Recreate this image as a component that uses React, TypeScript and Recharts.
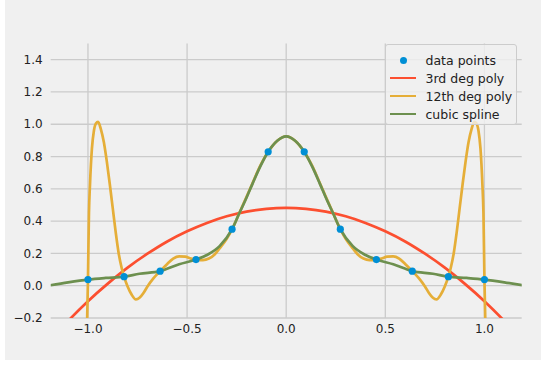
import React from 'react';
import { LineChart, Line, XAxis, YAxis, CartesianGrid, Legend } from 'recharts';

// sample points (blue dots)
const dataX = [-1, -0.818, -0.636, -0.455, -0.273, -0.091, 0.091, 0.273, 0.455, 0.636, 0.818, 1];
const dataY = [0.038, 0.056, 0.09, 0.162, 0.35, 0.829, 0.829, 0.35, 0.162, 0.09, 0.056, 0.038];

// 3rd degree fit
const poly3X = [-1.2, -1.1, -1.0, -0.9, -0.8, -0.7, -0.6, -0.5, -0.4, -0.3, -0.2, -0.1, 0, 0.1, 0.2, 0.3, 0.4, 0.5, 0.6, 0.7, 0.8, 0.9, 1.0, 1.1, 1.2];
const poly3Y = [-0.352, -0.218, -0.096, 0.013, 0.112, 0.198, 0.274, 0.337, 0.389, 0.43, 0.459, 0.476, 0.482, 0.476, 0.459, 0.43, 0.389, 0.337, 0.274, 0.198, 0.112, 0.013, -0.096, -0.218, -0.352];

// 12th degree fit (yellow), [x, y]
const poly12Pts: [number, number][] = [
  [-1.02, -1.4], [-1.01, -0.55], [-1.0, 0.038], [-0.995, 0.45], [-0.99, 0.62], [-0.98, 0.85],
  [-0.97, 0.96], [-0.96, 1.005], [-0.949, 1.015], [-0.935, 0.97], [-0.92, 0.89], [-0.905, 0.77],
  [-0.89, 0.63], [-0.875, 0.48], [-0.86, 0.33], [-0.845, 0.2], [-0.83, 0.11], [-0.818, 0.056],
  [-0.8, -0.005], [-0.78, -0.055], [-0.758, -0.085], [-0.74, -0.075], [-0.72, -0.045], [-0.7, -0.005],
  [-0.67, 0.045], [-0.636, 0.09], [-0.6, 0.135], [-0.57, 0.168], [-0.54, 0.182], [-0.51, 0.18],
  [-0.48, 0.168], [-0.455, 0.162], [-0.42, 0.158], [-0.39, 0.168], [-0.36, 0.195], [-0.336, 0.231],
  [-0.3, 0.29], [-0.273, 0.35], [-0.24, 0.44], [-0.2, 0.55], [-0.17, 0.635], [-0.13, 0.745],
  [-0.091, 0.829], [-0.045, 0.898], [0, 0.925],
  [0.045, 0.898], [0.091, 0.829], [0.13, 0.745], [0.17, 0.635], [0.2, 0.55], [0.24, 0.44],
  [0.273, 0.35], [0.3, 0.29], [0.336, 0.231], [0.36, 0.195], [0.39, 0.168], [0.42, 0.158],
  [0.455, 0.162], [0.48, 0.168], [0.51, 0.18], [0.54, 0.182], [0.57, 0.168], [0.6, 0.135],
  [0.636, 0.09], [0.67, 0.045], [0.7, -0.005], [0.72, -0.045], [0.74, -0.075], [0.758, -0.085],
  [0.78, -0.055], [0.8, -0.005], [0.818, 0.056], [0.83, 0.11], [0.845, 0.2], [0.86, 0.33],
  [0.875, 0.48], [0.89, 0.63], [0.905, 0.77], [0.92, 0.89], [0.935, 0.97], [0.949, 1.015],
  [0.96, 1.005], [0.97, 0.96], [0.98, 0.85], [0.99, 0.62], [0.995, 0.45], [1.0, 0.038],
  [1.01, -0.55], [1.02, -1.4],
];

// cubic spline (green), [x, y]
const splinePts: [number, number][] = [
  [-1.19, 0.003], [-1.1, 0.021], [-1.0, 0.038], [-0.91, 0.048], [-0.818, 0.056], [-0.74, 0.074],
  [-0.636, 0.09], [-0.54, 0.133], [-0.455, 0.162], [-0.4, 0.19], [-0.336, 0.245], [-0.273, 0.35],
  [-0.236, 0.45], [-0.202, 0.54], [-0.169, 0.634], [-0.13, 0.74], [-0.091, 0.829], [-0.045, 0.898],
  [0, 0.925],
  [0.045, 0.898], [0.091, 0.829], [0.13, 0.74], [0.169, 0.634], [0.202, 0.54], [0.236, 0.45],
  [0.273, 0.35], [0.336, 0.245], [0.4, 0.19], [0.455, 0.162], [0.54, 0.133], [0.636, 0.09],
  [0.74, 0.074], [0.818, 0.056], [0.91, 0.048], [1.0, 0.038], [1.1, 0.021], [1.19, 0.003],
];

const xTicks = [-1, -0.5, 0, 0.5, 1];
const yTicks = [-0.2, 0, 0.2, 0.4, 0.6, 0.8, 1.0, 1.2, 1.4];

const legendItems = [
  { name: 'data points', color: '#008fd5', kind: 'dot' },
  { name: '3rd deg poly', color: '#fc4f30', kind: 'line' },
  { name: '12th deg poly', color: '#e5ae38', kind: 'line' },
  { name: 'cubic spline', color: '#6d904f', kind: 'line' },
];

const FONT = '"DejaVu Sans", sans-serif';

const fmt = (v: number) => (v < 0 ? '\u2212' : '') + Math.abs(v).toFixed(1);

const points = dataX.map((x, i) => ({ x, y: dataY[i] }));
const poly3 = poly3X.map((x, i) => ({ x, y: poly3Y[i] }));
const poly12 = poly12Pts.map(([x, y]) => ({ x, y }));
const spline = splinePts.map(([x, y]) => ({ x, y }));

const LegendBox = () => (
  <div
    style={{
      width: 132,
      height: 81,
      boxSizing: 'border-box',
      border: '1px solid #cccccc',
      borderRadius: 3,
      background: 'rgba(240,240,240,0.8)',
      paddingTop: 6,
      fontFamily: FONT,
      fontSize: 12.5,
      color: '#222',
    }}
  >
    {legendItems.map((it) => (
      <div key={it.name} style={{ height: 18, display: 'flex', alignItems: 'center', position: 'relative' }}>
        {it.kind === 'dot' ? (
          <span style={{ position: 'absolute', left: 14, width: 7, height: 7, borderRadius: '50%', background: it.color }} />
        ) : (
          <span style={{ position: 'absolute', left: 4, width: 26, height: 2.6, background: it.color }} />
        )}
        <span style={{ position: 'absolute', left: 40, whiteSpace: 'nowrap' }}>{it.name}</span>
      </div>
    ))}
  </div>
);

export default function App() {
  return (
    <div style={{ position: 'absolute', left: 0, top: 0, width: 546, height: 365, background: '#ffffff' }}>
      <div style={{ position: 'absolute', left: 5, top: 0, width: 536, height: 360, background: '#f0f0f0' }} />
      <div style={{ position: 'absolute', left: 0, top: 0 }}>
        <LineChart width={546} height={365} margin={{ top: 43.5, right: 24.3, left: 5.7, bottom: 17 }}>
          <CartesianGrid stroke="#cbcbcb" strokeWidth={1.3} horizontalValues={yTicks} verticalValues={xTicks} />
          <XAxis
            type="number"
            dataKey="x"
            domain={[-1.188, 1.188]}
            ticks={xTicks}
            allowDataOverflow
            axisLine={false}
            tickLine={false}
            tickMargin={0}
            height={30}
            tickFormatter={fmt}
            tick={{ fill: '#222', fontSize: 12, fontFamily: FONT }}
          />
          <YAxis
            type="number"
            dataKey="y"
            domain={[-0.2, 1.5]}
            ticks={yTicks}
            allowDataOverflow
            axisLine={false}
            tickLine={false}
            width={45}
            tickFormatter={fmt}
            tick={{ fill: '#222', fontSize: 12, fontFamily: FONT }}
          />
          {/* dots go under the curves, as in the original plot */}
          <Line
            data={points}
            dataKey="y"
            stroke="none"
            dot={{ r: 3.6, fill: '#008fd5', stroke: 'none' }}
            activeDot={false}
            zIndex={350}
            isAnimationActive={false}
          />
          <Line data={poly3} dataKey="y" type="monotone" stroke="#fc4f30" strokeWidth={2.7} dot={false} activeDot={false} isAnimationActive={false} />
          <Line data={poly12} dataKey="y" type="monotone" stroke="#e5ae38" strokeWidth={2.7} dot={false} activeDot={false} isAnimationActive={false} />
          <Line data={spline} dataKey="y" type="monotone" stroke="#6d904f" strokeWidth={2.7} dot={false} activeDot={false} isAnimationActive={false} />
          <Legend
            layout="vertical"
            align="center"
            verticalAlign="middle"
            content={() => <LegendBox />}
            wrapperStyle={{ left: 384.5, top: 44, width: 132, height: 81 }}
          />
        </LineChart>
      </div>
    </div>
  );
}
